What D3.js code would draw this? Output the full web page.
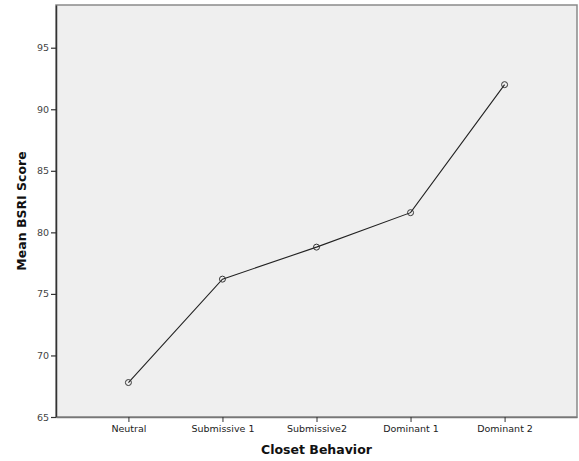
<!DOCTYPE html>
<html><head><meta charset="utf-8">
<script src="https://cdn.jsdelivr.net/npm/d3@7"></script>
<style>body{margin:0;background:#fff;} svg{display:block;}</style>
</head><body>
<svg id="c" width="579" height="461"></svg>
<script>
const categories = ["Neutral", "Submissive 1", "Submissive2", "Dominant 1", "Dominant 2"];
const meanScores = [67.8, 76.2, 78.8, 81.6, 92.0];
const yTicks = [65, 70, 75, 80, 85, 90, 95];

const svg = d3.select("#c");
const L = 56, T = 5, R = 577, B = 417;
const x = d3.scalePoint().domain(categories).range([L, R]).padding(0.77);
const y = d3.scaleLinear().domain([65, 98.47]).range([B, T]);

svg.append("rect").attr("x", L).attr("y", T).attr("width", R - L).attr("height", B - T)
  .attr("fill", "#efefef").attr("stroke", "#8a8a8a").attr("stroke-width", 1.5);

const font = "DejaVu Sans, sans-serif";
const yAxis = svg.append("g").attr("transform", `translate(${L},0)`)
  .call(d3.axisLeft(y).tickValues(yTicks).tickSize(5).tickSizeOuter(0).tickPadding(2));
yAxis.select(".domain").attr("stroke", "#333").attr("stroke-width", 1.5);
yAxis.selectAll(".tick line").attr("stroke", "#333").attr("stroke-width", 1.2);
yAxis.selectAll("text").attr("font-family", font).attr("font-size", 9.5).attr("fill", "#444");

const xAxis = svg.append("g").attr("transform", `translate(0,${B})`)
  .call(d3.axisBottom(x).tickSize(5).tickSizeOuter(0).tickPadding(3));
xAxis.select(".domain").attr("stroke", "#777").attr("stroke-width", 1.5);
xAxis.selectAll(".tick line").attr("stroke", "#333").attr("stroke-width", 1);
xAxis.selectAll("text").attr("font-family", font).attr("font-size", 9.5).attr("fill", "#222");

const data = categories.map((c, i) => ({c, v: meanScores[i]}));
svg.append("path").datum(data)
  .attr("d", d3.line().x(d => x(d.c)).y(d => y(d.v)))
  .attr("fill", "none").attr("stroke", "#222").attr("stroke-width", 1.1);
svg.selectAll("circle.pt").data(data).enter().append("circle").attr("class", "pt")
  .attr("cx", d => x(d.c)).attr("cy", d => y(d.v)).attr("r", 3)
  .attr("fill", "none").attr("stroke", "#333").attr("stroke-width", 1);

svg.append("text").attr("x", (L + R) / 2).attr("y", 454).attr("text-anchor", "middle")
  .attr("font-family", font).attr("font-weight", "bold").attr("font-size", 12.5).attr("fill", "#111")
  .text("Closet Behavior");
svg.append("text").attr("transform", `translate(26,${(T + B) / 2}) rotate(-90)`).attr("text-anchor", "middle")
  .attr("font-family", font).attr("font-weight", "bold").attr("font-size", 12.5).attr("fill", "#111")
  .text("Mean BSRI Score");
</script>
</body></html>
